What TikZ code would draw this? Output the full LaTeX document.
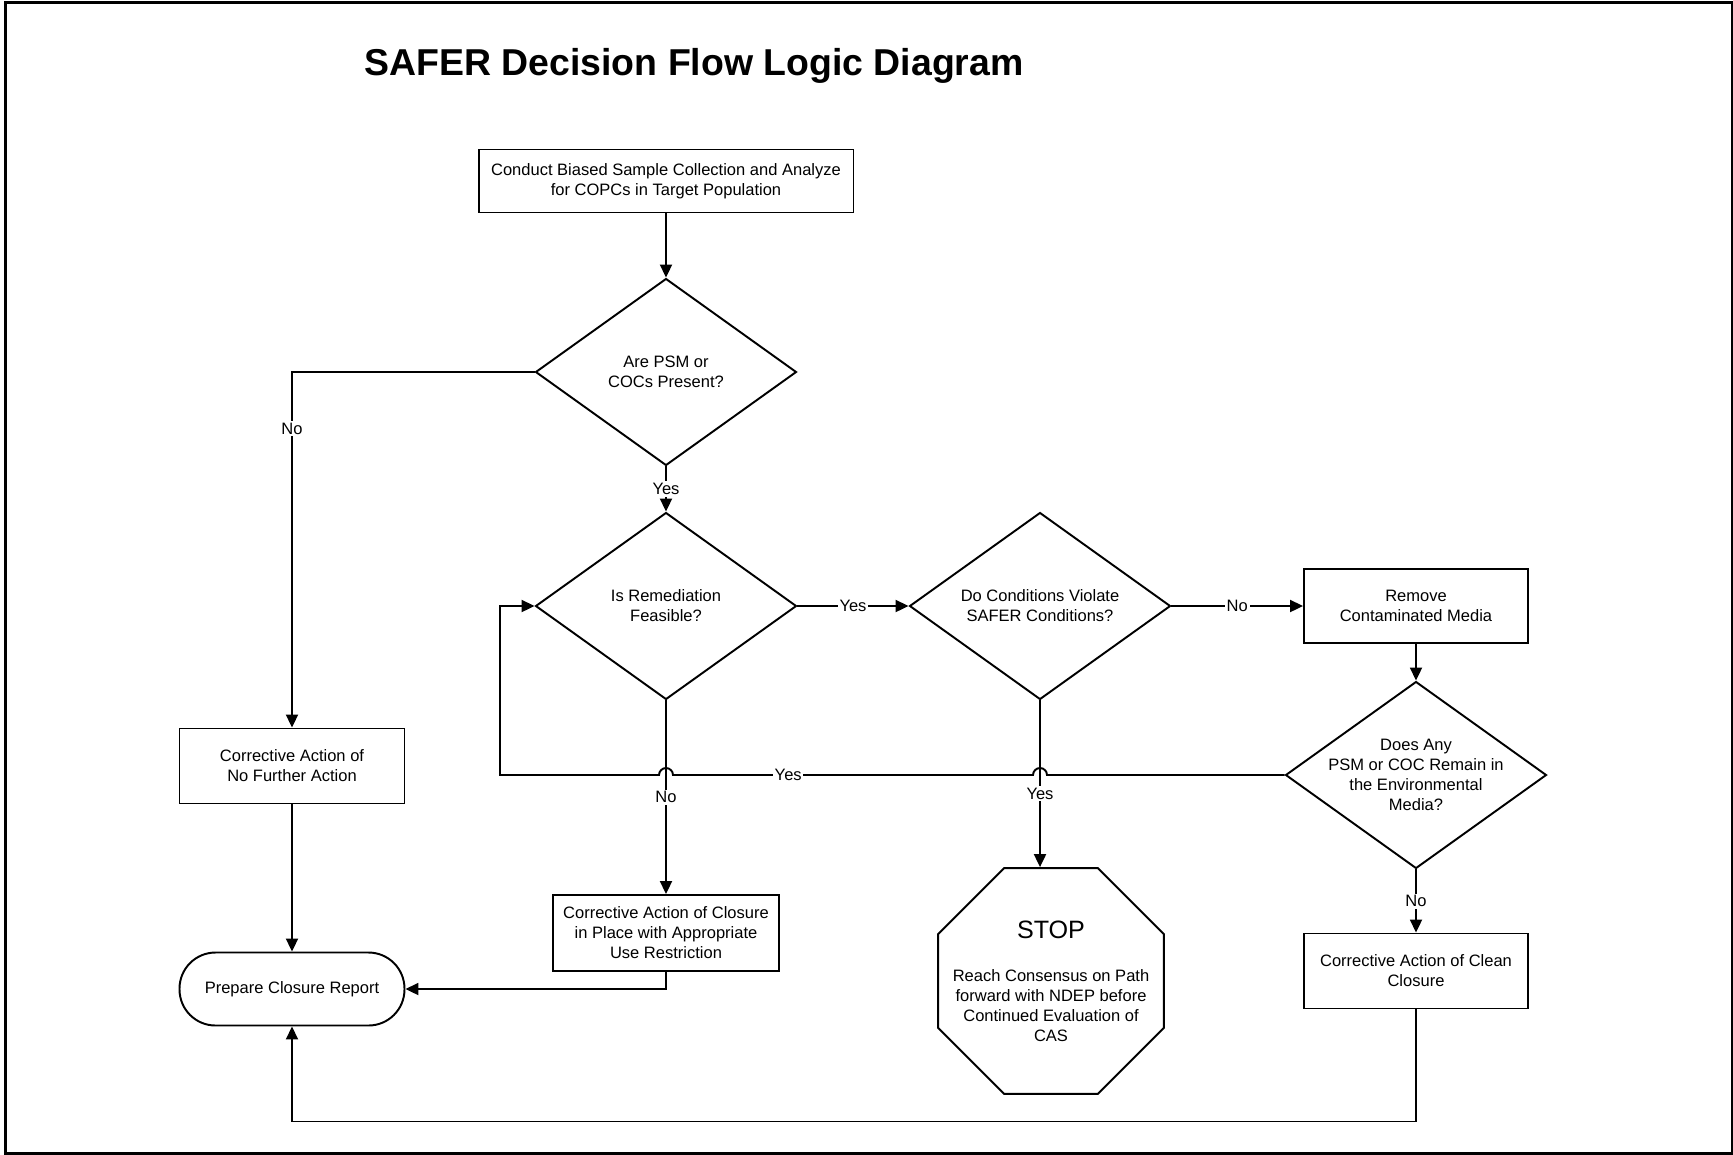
\documentclass[tikz,border=0pt]{standalone}
\usepackage{fontspec}
\setmainfont{Liberation Sans}
\usetikzlibrary{shapes.geometric, arrows.meta, calc}
\newcommand{\txt}{\fontsize{9.4}{11.4}\selectfont}
\tikzset{
  every node/.style={font=\txt},
  box/.style={draw, line width=1.1pt, align=center, inner sep=0pt},
  decision/.style={draw, diamond, line width=1.1pt, inner sep=0pt, minimum width=5.22cm, minimum height=3.74cm},
  terminal/.style={draw, line width=1.1pt, rounded corners=0.72cm, align=center, minimum width=4.5cm, minimum height=1.46cm},
  octa/.style={draw, regular polygon, regular polygon sides=8, line width=1.1pt, inner sep=0pt, minimum size=4.89cm},
  inside/.style={label={[align=center]center:#1}},
  lbl/.style={fill=white, inner sep=1pt},
  flow/.style={line width=1.1pt, -{Triangle[length=0.26cm,width=0.24cm]}}
}

\begin{document}
\begin{tikzpicture}[x=0.02cm, y=-0.02cm]
\useasboundingbox (0,0) rectangle (1733,1154);
\draw[line width=0.06cm] (5.5,2.5) rectangle (1732,1153);
\node[font=\fontsize{21.3}{24}\selectfont\bfseries, anchor=base] (title) at (694,75) {SAFER Decision Flow Logic Diagram};

% boxes and decisions
\node[box, minimum width=7.5cm, minimum height=1.26cm] (collect) at (666,181) {Conduct Biased Sample Collection and Analyze\\for COPCs in Target Population};
\node[decision, inside={Are PSM or\\COCs Present?}] (psm) at (666,372) {};
\node[decision, inside={Is Remediation\\Feasible?}] (feas) at (666,606) {};
\node[decision, inside={Do Conditions Violate\\SAFER Conditions?}] (safer) at (1040,606) {};
\node[box, minimum width=4.48cm, minimum height=1.48cm] (remove) at (1416,606) {Remove\\Contaminated Media};
\node[decision, inside={Does Any\\PSM or COC Remain in\\the Environmental\\Media?}] (remain) at (1416,775) {};
\node[box, minimum width=4.5cm, minimum height=1.5cm] (nofurther) at (292,766) {Corrective Action of\\No Further Action};
\node[box, minimum width=4.52cm, minimum height=1.52cm] (inplace) at (666,933) {Corrective Action of Closure\\in Place with Appropriate\\Use Restriction};
\node[box, minimum width=4.48cm, minimum height=1.5cm] (clean) at (1416,971) {Corrective Action of Clean\\Closure};
\node[terminal] (report) at (292,989) {Prepare Closure Report};
\node[octa, inside={{\fontsize{14.3}{17}\selectfont STOP}\\[13pt]Reach Consensus on Path\\forward with NDEP before\\Continued Evaluation of\\CAS}] (halt) at (1051,981) {};

% connectors
\draw[flow] (collect) -- (psm);
\draw[flow] (psm) -- node[lbl]{Yes} (feas);
\draw[flow] (psm.west) -| node[lbl, pos=0.58]{No} (nofurther);
\draw[flow] (nofurther) -- (report);
\draw[flow] (feas) -- node[lbl]{Yes} (safer);
\draw[flow] (safer) -- node[lbl]{No} (remove);
\draw[flow] (remove) -- (remain);
\draw[flow] (remain) -- node[lbl]{No} (clean);
\draw[flow] (feas) -- node[lbl]{No} (inplace);
\draw[flow] (safer.south) -- node[lbl, pos=0.56]{Yes} (safer.south |- halt.north);
\draw[flow] (inplace.south) |- (report.east);
\draw[flow] (clean.south) -- ++(0,112) -| (report.south);

% loop back with line hops
\coordinate (hopB) at (safer.south |- remain.west);
\coordinate (hopA) at (feas.south |- remain.west);
\coordinate (back) at (500,775);
\draw[flow] (remain.west) -- ($(hopB)+(7,0)$) arc[start angle=0, end angle=-180, radius=7]
  -- node[lbl, pos=0.68]{Yes} ($(hopA)+(7,0)$) arc[start angle=0, end angle=-180, radius=7]
  -- (back) |- (feas.west);
\end{tikzpicture}
\end{document}
